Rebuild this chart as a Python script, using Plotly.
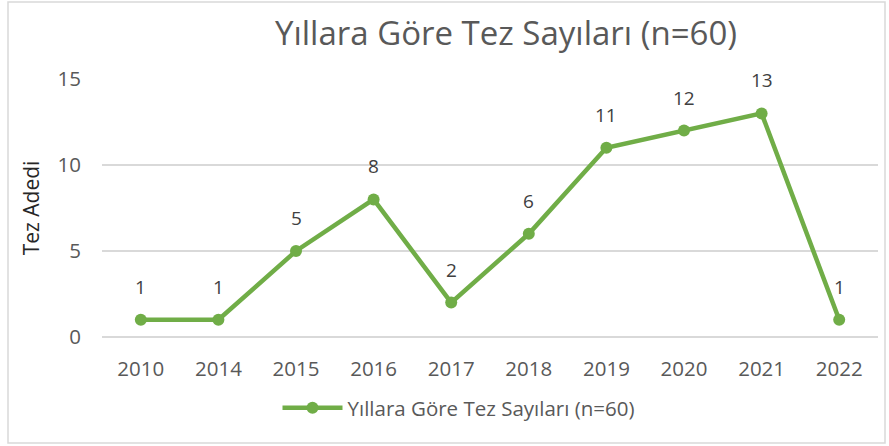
import plotly.graph_objects as go

years = ["2010", "2014", "2015", "2016", "2017", "2018", "2019", "2020", "2021", "2022"]
counts = [1, 1, 5, 8, 2, 6, 11, 12, 13, 1]
series_name = "Yıllara Göre Tez Sayıları (n=60)"
title_text = "Yıllara Göre Tez Sayıları (n=60)"
y_title = "Tez Adedi"
y_ticks = [0, 5, 10, 15]

green = "#70AD47"
gray = "#595959"
font_family = "Open Sans, sans-serif"

fig = go.Figure()
fig.add_trace(go.Scatter(
    x=years, y=counts, mode="lines+markers", name=series_name,
    line=dict(color=green, width=4.5),
    marker=dict(color=green, size=12),
))

for i, yv in enumerate(counts):
    fig.add_annotation(x=i, y=yv, text=str(yv), showarrow=False,
                       yshift=33, font=dict(size=19, color="#404040", family=font_family))

fig.update_layout(
    width=889, height=446,
    margin=dict(l=102, r=11, t=79, b=109, autoexpand=False),
    paper_bgcolor="white", plot_bgcolor="white",
    font=dict(family=font_family, color=gray, size=18),
    title=dict(text=title_text, x=506/889, xanchor="center", y=1-33/446, yanchor="middle",
               font=dict(size=33, color=gray, family=font_family)),
    showlegend=True,
    legend=dict(orientation="h", x=459/889, xref="container", xanchor="center",
                y=1-408/446, yref="container", yanchor="middle",
                font=dict(size=20.5, color=gray), itemwidth=60),
    xaxis=dict(type="category", range=[-0.5, len(years) - 0.5], showgrid=False,
               showline=False, ticks="", ticklabelstandoff=17, automargin=False,
               tickfont=dict(size=20.5, color=gray)),
    yaxis=dict(range=[0, 15], tickvals=y_ticks, showgrid=True, gridcolor="#d9d9d9",
               gridwidth=1.5, zeroline=True, zerolinecolor="#d9d9d9", zerolinewidth=1.5,
               showline=False, ticks="", ticklabelstandoff=20, automargin=False,
               tickfont=dict(size=20.5, color=gray),
               title=dict(text=y_title, font=dict(size=21, color="#262626"), standoff=12)),
    shapes=[dict(type="rect", xref="paper", yref="paper",
                 x0=(8 - 102) / 776, x1=(885 - 102) / 776,
                 y0=(337 - 443) / 258, y1=(337 - 2) / 258,
                 line=dict(color="#d9d9d9", width=1.5), fillcolor="rgba(0,0,0,0)", layer="below")],
)

fig.write_html("out.html")
